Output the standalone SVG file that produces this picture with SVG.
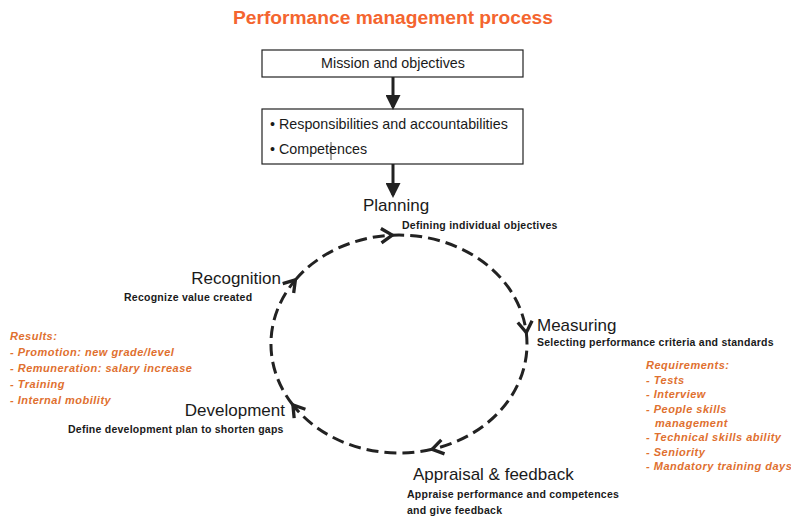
<svg xmlns="http://www.w3.org/2000/svg" width="791" height="518" viewBox="0 0 791 518">
  <style>
    text { font-family: "Liberation Sans", Arial, sans-serif; fill: #1a1a1a; }
    .title { font-size: 19.2px; font-weight: bold; fill: #F4652F; }
    .box { fill: #ffffff; stroke: #222222; stroke-width: 1.2; }
    .boxtext { font-size: 14.3px; }
    .stage { font-size: 17px; }
    .desc { font-size: 10.5px; font-weight: bold; letter-spacing: 0.25px; }
    .note { font-size: 11px; font-weight: bold; font-style: italic; fill: #E0702F; letter-spacing: 0.5px; }
    .flow { stroke: #222222; stroke-width: 3; fill: none; }
    .cycle { stroke: #222222; stroke-width: 3; fill: none; stroke-dasharray: 12 6; }
  </style>
  <defs>
    <marker id="solidHead" markerWidth="5" markerHeight="5" refX="4" refY="2.5" orient="auto" markerUnits="strokeWidth">
      <path d="M0,0 L5,2.5 L0,5 Z" fill="#222222"/>
    </marker>
    <marker id="openHead" markerWidth="6" markerHeight="6" refX="4.5" refY="3" orient="auto" markerUnits="strokeWidth">
      <path d="M0.8,0.6 L4.5,3 L0.8,5.4" fill="none" stroke="#222222" stroke-width="1.1"/>
    </marker>
  </defs>

  <text class="title" x="393" y="24" text-anchor="middle">Performance management process</text>

  <g id="mission">
    <rect class="box" x="262" y="50" width="261" height="27"/>
    <text class="boxtext" x="393" y="68" text-anchor="middle">Mission and objectives</text>
  </g>

  <g id="responsibilities">
    <rect class="box" x="262" y="109" width="261" height="55"/>
    <text class="boxtext" x="270" y="129">• Responsibilities and accountabilities</text>
    <text class="boxtext" x="270" y="154">• Competences</text>
    <line x1="331" y1="142" x2="331" y2="160" stroke="#222222" stroke-width="0.8"/>
  </g>

  <g id="planning">
    <text class="stage" x="363" y="211">Planning</text>
    <text class="desc" x="402" y="229">Defining individual objectives</text>
  </g>

  <g id="measuring">
    <text class="stage" x="537" y="331">Measuring</text>
    <text class="desc" x="537" y="346">Selecting performance criteria and standards</text>
  </g>

  <g id="appraisal">
    <text class="stage" x="413" y="480">Appraisal &amp; feedback</text>
    <text class="desc" x="407" y="498">Appraise performance and competences</text>
    <text class="desc" x="407" y="514">and give feedback</text>
  </g>

  <g id="development">
    <text class="stage" x="285" y="416" text-anchor="end">Development</text>
    <text class="desc" x="68" y="433">Define development plan to shorten gaps</text>
  </g>

  <g id="recognition">
    <text class="stage" x="281" y="284" text-anchor="end">Recognition</text>
    <text class="desc" x="124" y="301">Recognize value created</text>
  </g>

  <g id="results">
    <text class="note" x="10" y="340">Results:</text>
    <text class="note" x="10" y="356">- Promotion: new grade/level</text>
    <text class="note" x="10" y="372">- Remuneration: salary increase</text>
    <text class="note" x="10" y="388">- Training</text>
    <text class="note" x="10" y="404">- Internal mobility</text>
  </g>

  <g id="requirements">
    <text class="note" x="646" y="369">Requirements:</text>
    <text class="note" x="646" y="384">- Tests</text>
    <text class="note" x="646" y="398">- Interview</text>
    <text class="note" x="646" y="413">- People skills</text>
    <text class="note" x="655" y="427">management</text>
    <text class="note" x="646" y="441">- Technical skills ability</text>
    <text class="note" x="646" y="456">- Seniority</text>
    <text class="note" x="646" y="470">- Mandatory training days</text>
  </g>

  <g id="connectors">
    <line class="flow" x1="393" y1="77" x2="393" y2="107" marker-end="url(#solidHead)"/>
    <line class="flow" x1="393" y1="164" x2="393" y2="195" marker-end="url(#solidHead)"/>
    <!-- cycle: centre (399,344), radii 128 x 109, drawn clockwise -->
    <path class="cycle" d="M295.4,279.9 A128,109 0 0 1 392.3,235.2" marker-end="url(#openHead)"/>
    <path class="cycle" d="M392.3,235.2 A128,109 0 0 1 526.3,332.6" marker-end="url(#openHead)"/>
    <path class="cycle" d="M526.3,332.6 A128,109 0 0 1 432.1,449.3" marker-end="url(#openHead)"/>
    <path class="cycle" d="M432.1,449.3 A128,109 0 0 1 292.9,405.0" marker-end="url(#openHead)"/>
    <path class="cycle" d="M292.9,405.0 A128,109 0 0 1 295.4,279.9" marker-end="url(#openHead)"/>
  </g>
</svg>
